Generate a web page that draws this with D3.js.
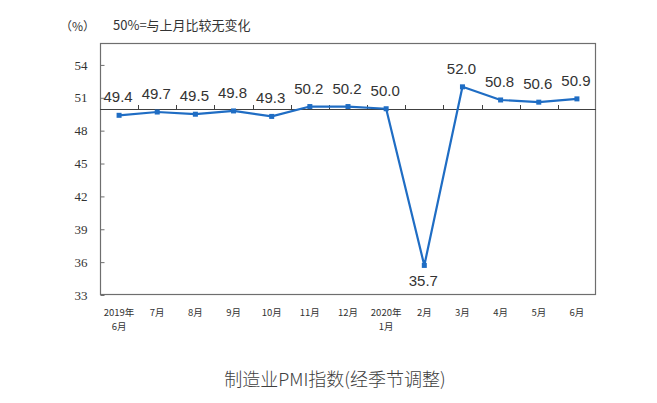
<!DOCTYPE html>
<html>
<head>
<meta charset="utf-8">
<script src="https://cdn.jsdelivr.net/npm/d3@7"></script>
<style>
  html, body { margin: 0; padding: 0; background: #ffffff; }
  svg { display: block; }
</style>
</head>
<body>
<svg id="chart" width="657" height="403"></svg>
<script>
// ---- data ----
const categories = ["2019年\n6月", "7月", "8月", "9月", "10月", "11月", "12月", "2020年\n1月", "2月", "3月", "4月", "5月", "6月"];
const pmiValues = [49.4, 49.7, 49.5, 49.8, 49.3, 50.2, 50.2, 50.0, 35.7, 52.0, 50.8, 50.6, 50.9];
const yTickValues = [33, 36, 39, 42, 45, 48, 51, 54];
const yDomain = [33, 56];
const referenceValue = 50;
const unitLabel = "（%）";
const noteLabel = "50%=与上月比较无变化";
const chartTitle = "制造业PMI指数(经季节调整)";

// ---- layout ----
const plot = { left: 100, right: 596, top: 43, bottom: 295 };
const svg = d3.select("#chart");

const x = d3.scaleBand().domain(categories).range([plot.left, plot.right]).paddingInner(0).paddingOuter(0);
const y = d3.scaleLinear().domain(yDomain).range([plot.bottom, plot.top]);
const cx = c => x(c) + x.bandwidth() / 2;

const lineColor = "#1f6dc4";
const axisColor = "#6e6e6e";
const textColor = "#333333";

// plot box
svg.append("rect")
  .attr("x", plot.left + 0.5).attr("y", plot.top + 0.5)
  .attr("width", plot.right - plot.left - 1).attr("height", plot.bottom - plot.top - 1)
  .attr("fill", "none").attr("stroke", axisColor).attr("stroke-width", 1.2);

// y axis (inside ticks)
const yAxis = d3.axisLeft(y).tickValues(yTickValues).tickSizeInner(-4).tickSizeOuter(0).tickPadding(13).tickFormat(d3.format("d"));
const gy = svg.append("g").attr("transform", `translate(${plot.left + 0.5},0)`).call(yAxis);
gy.select(".domain").remove();
gy.selectAll(".tick line").attr("stroke", axisColor);
gy.selectAll(".tick text")
  .attr("font-family", "'Liberation Serif', 'Times New Roman', serif")
  .attr("font-size", 13).attr("fill", textColor);

// reference line at 50
svg.append("line")
  .attr("x1", plot.left).attr("x2", plot.right)
  .attr("y1", Math.round(y(referenceValue)) + 0.5).attr("y2", Math.round(y(referenceValue)) + 0.5)
  .attr("stroke", "#404040").attr("stroke-width", 1.2);

// category boundary ticks on the reference line
svg.append("g").selectAll("line").data(categories.slice(1)).join("line")
  .attr("x1", d => Math.round(x(d)) + 0.5).attr("x2", d => Math.round(x(d)) + 0.5)
  .attr("y1", Math.round(y(referenceValue))).attr("y2", Math.round(y(referenceValue)) - 4)
  .attr("stroke", "#404040").attr("stroke-width", 1);

// category labels (one text per line to keep boxes apart)
const catG = svg.append("g")
  .attr("font-family", "'Noto Sans CJK SC', sans-serif")
  .attr("font-size", 9.5).attr("fill", textColor).attr("text-anchor", "middle");
categories.forEach(c => {
  c.split("\n").forEach((ln, i) => {
    catG.append("text").attr("x", cx(c)).attr("y", plot.bottom + 21 + i * 14).text(ln);
  });
});

// line
const pts = categories.map((c, i) => ({ c, v: pmiValues[i] }));
svg.append("path").datum(pts)
  .attr("fill", "none").attr("stroke", lineColor).attr("stroke-width", 2.2)
  .attr("stroke-linejoin", "round")
  .attr("d", d3.line().x(d => cx(d.c)).y(d => y(d.v)));

// markers
svg.append("g").selectAll("rect").data(pts).join("rect")
  .attr("x", d => cx(d.c) - 2.5).attr("y", d => y(d.v) - 2.5)
  .attr("width", 5).attr("height", 5).attr("fill", lineColor);

// data labels
svg.append("g").selectAll("text").data(pts).join("text")
  .attr("x", d => cx(d.c) - 1)
  .attr("y", d => d.v < 40 ? y(d.v) + 21 : y(d.v) - 13)
  .attr("text-anchor", "middle")
  .attr("font-family", "'Liberation Sans', Arial, sans-serif")
  .attr("font-size", 15).attr("fill", "#333333")
  .text(d => d3.format(".1f")(d.v));

// header texts
svg.append("text").attr("x", 60).attr("y", 31)
  .attr("font-family", "'Noto Sans CJK SC', sans-serif").attr("font-size", 12).attr("fill", textColor)
  .text(unitLabel);
svg.append("text").attr("x", 113).attr("y", 30)
  .attr("font-family", "'Noto Sans CJK SC', sans-serif").attr("font-size", 13).attr("fill", textColor)
  .text(noteLabel);

// title
svg.append("text").attr("x", 335).attr("y", 386)
  .attr("text-anchor", "middle")
  .attr("font-family", "'Noto Sans CJK SC', sans-serif").attr("font-size", 18).attr("font-weight", 300).attr("fill", "#404040")
  .text(chartTitle);
</script>
</body>
</html>
